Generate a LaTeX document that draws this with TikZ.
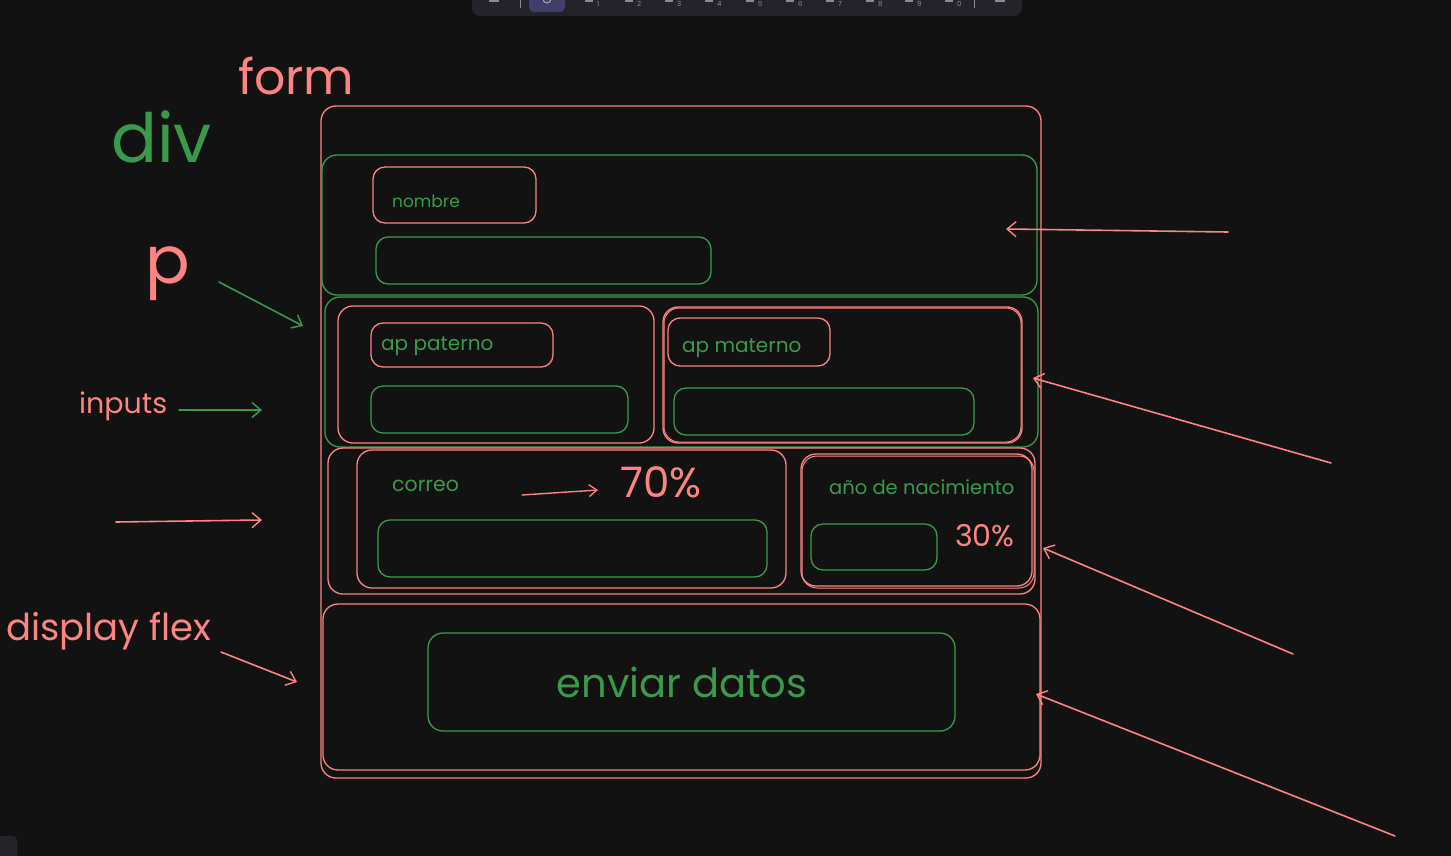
\documentclass[tikz,border=0pt]{standalone}
\usepackage{fontspec}
\setmainfont{Poppins}
\usetikzlibrary{arrows.meta,fit}
\definecolor{bg}{HTML}{121212}
\definecolor{sred}{HTML}{FF8383}
\definecolor{sgreen}{HTML}{3A9A4C}
\definecolor{bar}{HTML}{232329}
\definecolor{barsel}{HTML}{403E6A}
\definecolor{icon}{HTML}{8A8A93}
\begin{document}
\begin{tikzpicture}[x=1pt,y=-1pt,
  box/.style={draw, rounded corners=12pt, line width=1.3pt, inner sep=0pt},
  redbox/.style={box, sred},
  greenbox/.style={box, sgreen},
  lbl/.style={inner sep=0pt, anchor=base west},
  arr/.style={-{Straight Barb[length=9pt,width=15pt,line width=1.4pt]}, line width=1.6pt, line cap=round},
  keynum/.style={inner sep=0pt, text=icon, font=\fontsize{7}{8}\selectfont, anchor=base west}]
\fill[bg] (0,0) rectangle (1451,856);
\useasboundingbox (0,0) rectangle (1451,856);

% toolbar strip
\fill[bar, rounded corners=8pt] (472,-14) rectangle (1022,16);
\fill[barsel, rounded corners=5pt] (529,-8) rectangle (565,12);
\draw[icon, line width=0.8pt] (520,-2) -- (520,8) (974,-2) -- (974,8);
\draw[icon!70, line width=1pt] (547,-1) circle (4);
\foreach \xx/\nn in {597/1,637/2,677/3,717/4,758/5,798/6,838/7,878/8,917/9,957/0}{
  \node[keynum] at (\xx,7) {\nn};
  \fill[icon] (\xx-12,-2) rectangle (\xx-4,2);
}
\fill[icon] (489,-2) rectangle (499,2);
\fill[icon] (995,-2) rectangle (1005,2);
\fill[bar, rounded corners=4pt] (-6,836) rectangle (17,862);

% side labels
\node[lbl, text=sred, font=\fontsize{49}{49}\selectfont] (tform) at (238,95) {form};
\node[lbl, text=sgreen, font=\fontsize{68}{68}\selectfont] (tdiv) at (111,163) {div};
\node[lbl, text=sred, font=\fontsize{66}{66}\selectfont] (tp) at (145,283) {p};
\node[lbl, text=sred, font=\fontsize{28.5}{28}\selectfont] (tinputs) at (79,413) {inputs};
\node[lbl, text=sred, font=\fontsize{37}{37}\selectfont] (tflex) at (6,640) {display flex};

% form and its rows
\node[redbox, rounded corners=15pt, fit={(321,106) (1041,778)}] (form) {};
\node[greenbox, rounded corners=15pt, fit={(322,155) (1037,295)}] (div1) {};
\node[redbox, fit={(373,167) (536,223)}] (lnombre) {};
\node[lbl, text=sgreen, font=\fontsize{17}{17}\selectfont] at (392,207) {nombre};
\node[greenbox, fit={(376,237) (711,284)}] (inombre) {};

\node[greenbox, rounded corners=15pt, fit={(325,297) (1038,447)}] (div2) {};
\node[redbox, rounded corners=15pt, fit={(338,306) (654,443)}] (cpat) {};
\node[redbox, fit={(371,323) (553,367)}] (lpat) {};
\node[lbl, text=sgreen, font=\fontsize{20}{20}\selectfont] at (381,350) {ap paterno};
\node[greenbox, fit={(371,386) (628,433)}] (ipat) {};
\node[redbox, rounded corners=15pt, fit={(663,307) (1022,443)}] (cmat) {};
\node[redbox, line width=1pt, rounded corners=15pt, fit={(664,308) (1021,442)}] {};
\node[redbox, fit={(668,318) (830,366)}] (lmat) {};
\node[lbl, text=sgreen, font=\fontsize{20}{20}\selectfont] at (682,352) {ap materno};
\node[greenbox, fit={(674,388) (974,435)}] (imat) {};

\node[redbox, rounded corners=15pt, fit={(328,448) (1035,594)}] (div3) {};
\node[redbox, rounded corners=15pt, fit={(357,450) (786,588)}] (ccor) {};
\node[lbl, text=sgreen, font=\fontsize{20.5}{20}\selectfont] at (392,491) {correo};
\node[greenbox, fit={(378,520) (767,577)}] (icor) {};
\coordinate (s70) at (522,495);
\coordinate (e70) at (598,490);
\node[lbl, text=sred, font=\fontsize{42}{42}\selectfont] (t70) at (620,497) {70\%};
\draw[arr, sred, line width=1.4pt, -{Straight Barb[length=8pt,width=12pt,line width=1.3pt]}] (s70) -- (e70);
\node[redbox, rounded corners=15pt, fit={(801,454) (1032,586)}] (cano) {};
\node[redbox, line width=1pt, rounded corners=15pt, fit={(802,456) (1034,588)}] {};
\node[lbl, text=sgreen, font=\fontsize{19.5}{19}\selectfont] at (829,494) {año de nacimiento};
\node[greenbox, fit={(811,524) (937,570)}] (iano) {};
\node[lbl, text=sred, font=\fontsize{30}{30}\selectfont] (t30) at (955,546) {30\%};

\node[redbox, rounded corners=15pt, fit={(323,604) (1040,770)}] (div4) {};
\node[greenbox, rounded corners=15pt, fit={(428,633) (955,731)}] (btn) {};
\node[lbl, anchor=base, text=sgreen, font=\fontsize{40}{40}\selectfont] (tbtn) at (682,697) {enviar datos};

% pointers from the left
\coordinate (pe) at (303,326);
\draw[arr, sgreen] (219,282) -- (pe);
\coordinate (is) at (179,410);
\coordinate (ie) at (262,410);
\draw[arr, sgreen] (is) -- (ie);
\coordinate (ms) at (116,522);
\coordinate (me) at (262,520);
\draw[arr, sred] (ms) -- (me);
\coordinate (fs) at (221,652);
\coordinate (fe) at (297,682);
\draw[arr, sred] (fs) -- (fe);

% pointers from the right
\coordinate (r1s) at (1228,232);
\coordinate (r1e) at (1006,229);
\draw[arr, sred] (r1s) -- (r1e);
\coordinate (r2s) at (1331,463);
\coordinate (r2e) at (1033,378);
\draw[arr, sred] (r2s) -- (r2e);
\coordinate (r3s) at (1293,654);
\coordinate (r3e) at (1043,548);
\draw[arr, sred] (r3s) -- (r3e);
\coordinate (r4s) at (1395,836);
\coordinate (r4e) at (1036,694);
\draw[arr, sred] (r4s) -- (r4e);
\end{tikzpicture}
\end{document}
